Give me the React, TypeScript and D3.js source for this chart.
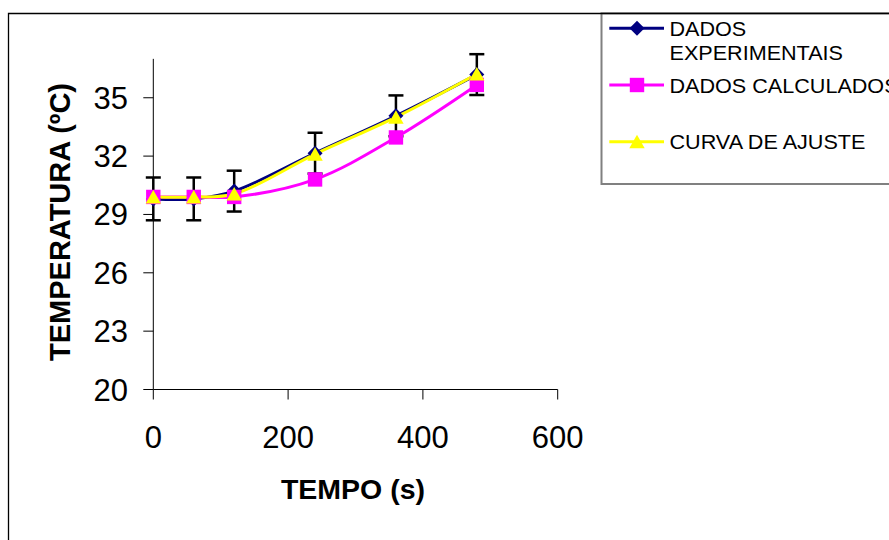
import React from "react";
import * as d3 from "d3";

const times = [0, 60, 120, 240, 360, 480];
const experimental = [29.8, 29.8, 30.2, 32.15, 34.07, 36.19];
const expErrors = [1.1, 1.1, 1.05, 1.05, 1.05, 1.05];
const calculated = [29.9, 29.9, 29.9, 30.8, 32.96, 35.66];
const fitted = [29.9, 29.9, 30.05, 32.1, 34.0, 36.22];
const xTicks = [0, 200, 400, 600];
const yTicks = [20, 23, 26, 29, 32, 35];
const legendLabels = [["DADOS", "EXPERIMENTAIS"], ["DADOS CALCULADOS"], ["CURVA DE AJUSTE"]];

const FONT = "'Liberation Sans', Arial, Helvetica, sans-serif";

export default function App() {
  const W = 889, H = 540;
  const x = d3.scaleLinear().domain([0, 600]).range([153.3, 557.7]);
  const y = d3.scaleLinear().domain([20, 37]).range([389.5, 58.85]);

  const line = d3
    .line<[number, number]>()
    .x((d) => x(d[0]))
    .y((d) => y(d[1]))
    .curve(d3.curveCatmullRom.alpha(0.5));

  const pts = (vals: number[]) => times.map((t, i) => [t, vals[i]] as [number, number]);

  const diamond = (cx: number, cy: number, r = 7.5) =>
    `M${cx},${cy - r}L${cx + r},${cy}L${cx},${cy + r}L${cx - r},${cy}Z`;
  const square = (cx: number, cy: number, r = 7.2) =>
    `M${cx - r},${cy - r}H${cx + r}V${cy + r}H${cx - r}Z`;
  const triangle = (cx: number, cy: number) =>
    `M${cx},${cy - 7}L${cx + 7.7},${cy + 6.5}L${cx - 7.7},${cy + 6.5}Z`;

  const legendRows = [
    { y: 28.3, color: "#000080", shape: "d", textY: [35.9, 60.2] },
    { y: 85, color: "#FF00FF", shape: "s", textY: [92.5] },
    { y: 141.7, color: "#FFFF00", shape: "t", textY: [148.5] },
  ];

  const marker = (shape: string, cx: number, cy: number) =>
    shape === "d" ? diamond(cx, cy) : shape === "s" ? square(cx, cy) : triangle(cx, cy);

  const LX = 669.5;
  const SX = 1.08;

  return (
    <svg
      width={W}
      height={H}
      style={{ position: "absolute", left: 0, top: 0, background: "#fff" }}
      fontFamily={FONT}
    >
      <rect x={0} y={0} width={W} height={H} fill="#fff" />

      {/* Legend box */}
      <rect x={601.5} y={13.3} width={320} height={170.7} fill="#fff" stroke="#808080" strokeWidth={2} />

      {/* Outer frame (left + top visible) */}
      <path d={`M8.5,${H}V13.5H${W}`} fill="none" stroke="#000" strokeWidth={1.3} />

      {/* Axes */}
      <line x1={x(0)} x2={x(0)} y1={y(37)} y2={y(20)} stroke="#000" strokeWidth={1} />
      <line x1={x(0)} x2={x(600)} y1={y(20)} y2={y(20)} stroke="#000" strokeWidth={1} />
      {yTicks.map((v) => (
        <g key={"y" + v}>
          <line x1={x(0) - 10} x2={x(0)} y1={y(v)} y2={y(v)} stroke="#000" strokeWidth={1} />
          <text x={128} y={y(v) + 11} textAnchor="end" fontSize={31} fill="#000">
            {v}
          </text>
        </g>
      ))}
      {xTicks.map((v) => (
        <g key={"x" + v}>
          <line x1={x(v)} x2={x(v)} y1={y(20)} y2={y(20) + 10} stroke="#000" strokeWidth={1} />
          <text x={x(v)} y={447.5} textAnchor="middle" fontSize={31} fill="#000">
            {v}
          </text>
        </g>
      ))}

      {/* Axis titles */}
      <text x={353} y={498.5} textAnchor="middle" fontSize={28.5} fontWeight="bold" fill="#000">
        TEMPO (s)
      </text>
      <text
        transform={`translate(70,${222}) rotate(-90)`}
        textAnchor="middle"
        fontSize={29}
        fontWeight="bold"
        fill="#000"
      >
        TEMPERATURA (ºC)
      </text>

      {/* Series lines */}
      <path d={line(pts(experimental)) || ""} fill="none" stroke="#000080" strokeWidth={3} />
      <path d={line(pts(calculated)) || ""} fill="none" stroke="#FF00FF" strokeWidth={3} />
      <path d={line(pts(fitted)) || ""} fill="none" stroke="#FFFF00" strokeWidth={3} />

      {/* Error bars */}
      {times.map((t, i) => {
        const cx = x(t);
        const top = y(experimental[i] + expErrors[i]);
        const bot = y(experimental[i] - expErrors[i]);
        return (
          <g key={"e" + i} stroke="#000" strokeWidth={2.5}>
            <line x1={cx} x2={cx} y1={top} y2={bot} />
            <line x1={cx - 7.5} x2={cx + 7.5} y1={top} y2={top} />
            <line x1={cx - 7.5} x2={cx + 7.5} y1={bot} y2={bot} />
          </g>
        );
      })}

      {/* Markers */}
      {times.map((t, i) => (
        <path key={"md" + i} d={diamond(x(t), y(experimental[i]))} fill="#000080" />
      ))}
      {times.map((t, i) => (
        <path key={"ms" + i} d={square(x(t), y(calculated[i]))} fill="#FF00FF" />
      ))}
      {times.map((t, i) => (
        <path key={"mt" + i} d={triangle(x(t), y(fitted[i]))} fill="#FFFF00" />
      ))}

      {/* Legend entries */}
      {legendRows.map((r, i) => (
        <g key={"l" + i}>
          <line x1={609.3} x2={664} y1={r.y} y2={r.y} stroke={r.color} strokeWidth={3} />
          <path d={marker(r.shape, 637, r.y)} fill={r.color} />
          {legendLabels[i].map((s, j) => (
            <text
              key={j}
              x={0}
              y={0}
              transform={`translate(${LX},${r.textY[j]}) scale(${SX},1)`}
              fontSize={20}
              fill="#000"
            >
              {s}
            </text>
          ))}
        </g>
      ))}
    </svg>
  );
}
